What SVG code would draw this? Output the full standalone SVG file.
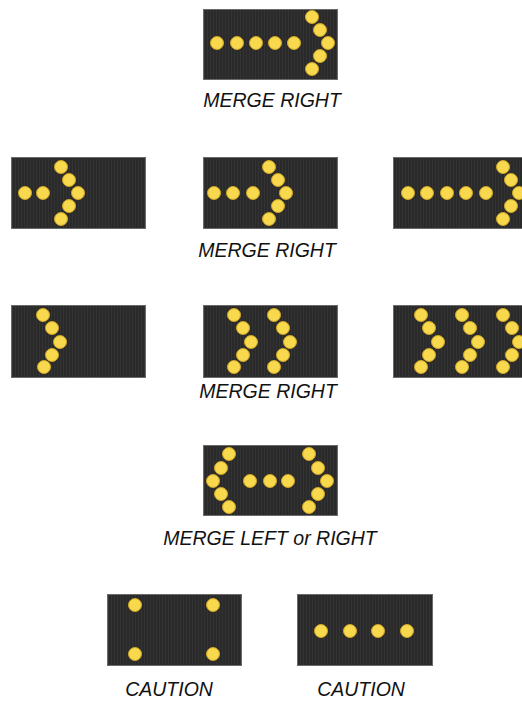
<svg xmlns="http://www.w3.org/2000/svg" width="522" height="702" viewBox="0 0 522 702">
<style>
.bd{fill:url(#tex);stroke:#6a6a6a;stroke-width:1}
.d{fill:#f8d84c;stroke:#cfa625;stroke-width:1}
.t{font-family:"Liberation Sans",Arial,sans-serif;font-style:italic;font-size:19.5px;fill:#111;text-anchor:middle}
</style>
<defs>
<pattern id="tex" width="3" height="3" patternUnits="userSpaceOnUse">
<rect width="3" height="3" fill="#2a2a2a"/>
<rect width="1" height="3" fill="#333"/>
</pattern>
</defs>
<rect width="522" height="702" fill="#fff"/>

<g id="sign1">
<rect class="bd" x="203.5" y="9.5" width="134" height="70"/>
<circle class="d" cx="217" cy="43" r="6.5"/><circle class="d" cx="237" cy="43" r="6.5"/><circle class="d" cx="256" cy="43" r="6.5"/><circle class="d" cx="275" cy="43" r="6.5"/><circle class="d" cx="294" cy="43" r="6.5"/>
<circle class="d" cx="312" cy="17" r="6.5"/><circle class="d" cx="320" cy="30" r="6.5"/><circle class="d" cx="328" cy="43" r="6.5"/><circle class="d" cx="320" cy="56" r="6.5"/><circle class="d" cx="312" cy="69" r="6.5"/>
<text class="t" x="272" y="107">MERGE RIGHT</text>
</g>

<g id="sign2a">
<rect class="bd" x="11.5" y="157.5" width="134" height="71"/>
<circle class="d" cx="25" cy="193" r="6.5"/><circle class="d" cx="43" cy="193" r="6.5"/>
<circle class="d" cx="61" cy="167" r="6.5"/><circle class="d" cx="69" cy="180" r="6.5"/><circle class="d" cx="78" cy="193" r="6.5"/><circle class="d" cx="69" cy="206" r="6.5"/><circle class="d" cx="61" cy="219" r="6.5"/>
</g>
<g id="sign2b">
<rect class="bd" x="203.5" y="157.5" width="134" height="71"/>
<circle class="d" cx="214" cy="193" r="6.5"/><circle class="d" cx="233" cy="193" r="6.5"/><circle class="d" cx="253" cy="193" r="6.5"/>
<circle class="d" cx="269" cy="167" r="6.5"/><circle class="d" cx="278" cy="180" r="6.5"/><circle class="d" cx="286" cy="193" r="6.5"/><circle class="d" cx="278" cy="206" r="6.5"/><circle class="d" cx="269" cy="219" r="6.5"/>
<text class="t" x="267" y="257">MERGE RIGHT</text>
</g>
<g id="sign2c">
<rect class="bd" x="393.5" y="157.5" width="134" height="71"/>
<circle class="d" cx="408" cy="193" r="6.5"/><circle class="d" cx="427" cy="193" r="6.5"/><circle class="d" cx="447" cy="193" r="6.5"/><circle class="d" cx="466" cy="193" r="6.5"/><circle class="d" cx="486" cy="193" r="6.5"/>
<circle class="d" cx="503" cy="167" r="6.5"/><circle class="d" cx="511" cy="180" r="6.5"/><circle class="d" cx="519" cy="193" r="6.5"/><circle class="d" cx="511" cy="206" r="6.5"/><circle class="d" cx="503" cy="219" r="6.5"/>
</g>

<g id="sign3a">
<rect class="bd" x="11.5" y="305.5" width="134" height="72"/>
<circle class="d" cx="43" cy="315" r="6.5"/><circle class="d" cx="52" cy="328" r="6.5"/><circle class="d" cx="60" cy="342" r="6.5"/><circle class="d" cx="52" cy="355" r="6.5"/><circle class="d" cx="44" cy="367" r="6.5"/>
</g>
<g id="sign3b">
<rect class="bd" x="203.5" y="305.5" width="134" height="72"/>
<circle class="d" cx="234" cy="315" r="6.5"/><circle class="d" cx="243" cy="328" r="6.5"/><circle class="d" cx="251" cy="342" r="6.5"/><circle class="d" cx="243" cy="355" r="6.5"/><circle class="d" cx="234" cy="367" r="6.5"/>
<circle class="d" cx="274" cy="315" r="6.5"/><circle class="d" cx="283" cy="328" r="6.5"/><circle class="d" cx="290" cy="342" r="6.5"/><circle class="d" cx="283" cy="355" r="6.5"/><circle class="d" cx="274" cy="367" r="6.5"/>
<text class="t" x="268" y="398">MERGE RIGHT</text>
</g>
<g id="sign3c">
<rect class="bd" x="393.5" y="305.5" width="134" height="72"/>
<circle class="d" cx="421" cy="315" r="6.5"/><circle class="d" cx="429" cy="328" r="6.5"/><circle class="d" cx="438" cy="342" r="6.5"/><circle class="d" cx="429" cy="355" r="6.5"/><circle class="d" cx="421" cy="367" r="6.5"/>
<circle class="d" cx="462" cy="315" r="6.5"/><circle class="d" cx="470" cy="328" r="6.5"/><circle class="d" cx="478" cy="342" r="6.5"/><circle class="d" cx="470" cy="355" r="6.5"/><circle class="d" cx="462" cy="367" r="6.5"/>
<circle class="d" cx="503" cy="315" r="6.5"/><circle class="d" cx="512" cy="328" r="6.5"/><circle class="d" cx="519" cy="342" r="6.5"/><circle class="d" cx="512" cy="355" r="6.5"/><circle class="d" cx="503" cy="367" r="6.5"/>
</g>

<g id="sign4">
<rect class="bd" x="203.5" y="445.5" width="134" height="70"/>
<circle class="d" cx="229" cy="454" r="6.5"/><circle class="d" cx="221" cy="468" r="6.5"/><circle class="d" cx="213" cy="481" r="6.5"/><circle class="d" cx="221" cy="494" r="6.5"/><circle class="d" cx="229" cy="507" r="6.5"/>
<circle class="d" cx="250" cy="481" r="6.5"/><circle class="d" cx="270" cy="481" r="6.5"/><circle class="d" cx="288" cy="481" r="6.5"/>
<circle class="d" cx="309" cy="454" r="6.5"/><circle class="d" cx="318" cy="468" r="6.5"/><circle class="d" cx="327" cy="481" r="6.5"/><circle class="d" cx="318" cy="494" r="6.5"/><circle class="d" cx="309" cy="507" r="6.5"/>
<text class="t" x="270" y="545">MERGE LEFT or RIGHT</text>
</g>

<g id="sign5a">
<rect class="bd" x="107.5" y="594.5" width="134" height="71"/>
<circle class="d" cx="135" cy="605" r="6.5"/><circle class="d" cx="213" cy="605" r="6.5"/><circle class="d" cx="135" cy="654" r="6.5"/><circle class="d" cx="213" cy="654" r="6.5"/>
<text class="t" x="169" y="696">CAUTION</text>
</g>
<g id="sign5b">
<rect class="bd" x="297.5" y="594.5" width="135" height="71"/>
<circle class="d" cx="321" cy="631" r="6.5"/><circle class="d" cx="350" cy="631" r="6.5"/><circle class="d" cx="378" cy="631" r="6.5"/><circle class="d" cx="407" cy="631" r="6.5"/>
<text class="t" x="361" y="696">CAUTION</text>
</g>
<g id="connectors"/>
</svg>
